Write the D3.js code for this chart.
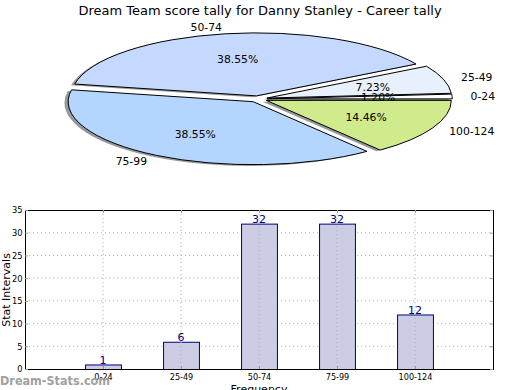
<!DOCTYPE html>
<html><head><meta charset="utf-8">
<script src="https://cdn.jsdelivr.net/npm/d3@7"></script>
<style>
html,body{margin:0;padding:0;background:#fff;}
svg{display:block;font-family:"DejaVu Sans",sans-serif;}
</style></head>
<body>
<svg id="c" width="520" height="390"></svg>
<script>
const titleText = "Dream Team score tally for Danny Stanley - Career tally";
const categories = ["0-24", "25-49", "50-74", "75-99", "100-124"];
const counts = [1, 6, 32, 32, 12];
const pieColors = ["#ffffff", "#e8f0fe", "#c5d9fe", "#b4d5fe", "#d0eb8b"];
const yTicks = [0, 5, 10, 15, 20, 25, 30, 35];
const xLabel = "Frequency";
const yLabel = "Stat Intervals";
const watermark = "Dream-Stats.com";

const svg = d3.select("#c");

// Title
svg.append("text").attr("x", 260).attr("y", 15).attr("text-anchor", "middle")
  .attr("font-size", 13).attr("fill", "#000").text(titleText);

// ---------- Pie ----------
const cx = 258, cy = 99, rx = 185, ry = 63;
const explode = 0.05, labelDist = 1.1, pctDist = 0.6;
const total = d3.sum(counts);
const pie = d3.pie().sort(null).value(d => d)
  .startAngle(Math.PI / 2).endAngle(Math.PI / 2 - 2 * Math.PI);
const arcs = pie(counts);
const arc = d3.arc().innerRadius(0).outerRadius(rx);

const pg = svg.append("g").attr("transform", `translate(${cx},${cy}) scale(1,${ry / rx})`);
const offs = arcs.map(a => {
  const m = (a.startAngle + a.endAngle) / 2;
  return {m, dx: Math.sin(m) * explode * rx, dy: -Math.cos(m) * explode * rx};
});
// shadows
arcs.forEach((a, i) => {
  pg.append("path").attr("d", arc(a))
    .attr("transform", `translate(${offs[i].dx - 0.02 * rx},${offs[i].dy + 0.02 * rx})`)
    .attr("fill", "#2e3238").attr("fill-opacity", 0.5);
});
// wedges
arcs.forEach((a, i) => {
  pg.append("path").attr("d", arc(a))
    .attr("transform", `translate(${offs[i].dx},${offs[i].dy})`)
    .attr("fill", pieColors[i]).attr("stroke", "#000").attr("stroke-width", 1)
    .attr("vector-effect", "non-scaling-stroke").attr("stroke-linejoin", "round");
});
// labels
arcs.forEach((a, i) => {
  const m = offs[i].m;
  const ux = Math.sin(m), uy = -Math.cos(m);
  const lx = cx + (explode + labelDist) * ux * rx;
  const ly = cy + (explode + labelDist) * uy * ry;
  svg.append("text").attr("x", lx).attr("y", ly).attr("dy", "0.36em")
    .attr("text-anchor", ux > 0 ? "start" : "end")
    .attr("font-size", 10.8).text(categories[i]);
  const px = cx + (explode + pctDist) * ux * rx;
  const py = cy + (explode + pctDist) * uy * ry;
  svg.append("text").attr("x", px).attr("y", py).attr("dy", "0.36em")
    .attr("text-anchor", "middle").attr("font-size", 10.8)
    .text((counts[i] / total * 100).toFixed(2) + "%");
});

// ---------- Bar chart ----------
const L = 25, R = 493, T = 210, B = 369;
const x = d3.scalePoint().domain(categories).range([L, R]).padding(1);
const y = d3.scaleLinear().domain([0, 35]).range([B, T]);
const bw = 0.46 * x.step();
const bg = svg.append("g");

// horizontal grid (behind bars)
bg.selectAll("line.hg").data(yTicks.filter(t => t > 0 && t < 35)).enter().append("line")
  .attr("x1", L).attr("x2", R).attr("y1", d => y(d)).attr("y2", d => y(d))
  .attr("stroke", "#b8b8b8").attr("stroke-dasharray", "1.2,2.8").attr("stroke-width", 1);

// bars
bg.selectAll("rect.bar").data(counts).enter().append("rect")
  .attr("x", (d, i) => x(categories[i]) - bw / 2 + 0.5)
  .attr("y", d => y(d) + 0.5)
  .attr("width", bw).attr("height", d => B - y(d))
  .attr("fill", "#ccccE5").attr("stroke", "#000080").attr("stroke-width", 1);

// vertical grid (over bars)
bg.selectAll("line.vg").data(categories).enter().append("line")
  .attr("x1", d => x(d)).attr("x2", d => x(d)).attr("y1", T).attr("y2", B)
  .attr("stroke", "#b0b0b0").attr("stroke-dasharray", "1.2,2.8").attr("stroke-width", 1);

// value labels
bg.selectAll("text.val").data(counts).enter().append("text")
  .attr("x", (d, i) => x(categories[i])).attr("y", d => y(d) - 0.5)
  .attr("text-anchor", "middle").attr("font-size", 11).attr("fill", "#000080")
  .text(d => d);

// frame
bg.append("rect").attr("x", L + 0.5).attr("y", T + 0.5).attr("width", R - L).attr("height", B - T)
  .attr("fill", "none").attr("stroke", "#000").attr("stroke-width", 1);

// axes via d3
const yAxis = d3.axisLeft(y).tickValues(yTicks).tickSize(0).tickPadding(3);
const ya = svg.append("g").attr("transform", `translate(${L + 0.5},0)`).call(yAxis);
ya.select(".domain").remove();
ya.selectAll("text").attr("font-size", 9.2).attr("font-family", "DejaVu Sans").attr("font-stretch", "condensed").attr("fill", "#000");

const xAxis = d3.axisBottom(x).tickSize(0).tickPadding(4);
const xa = svg.append("g").attr("transform", `translate(0,${B + 0.5})`).call(xAxis);
xa.select(".domain").remove();
xa.selectAll("text").attr("font-size", 9).attr("font-family", "DejaVu Sans").attr("font-stretch", "condensed").attr("fill", "#000");

// tick marks inside (left/right/top/bottom)
yTicks.forEach(t => {
  svg.append("line").attr("x1", L).attr("x2", L + 3).attr("y1", y(t) + 0.5).attr("y2", y(t) + 0.5).attr("stroke", "#999");
  svg.append("line").attr("x1", R - 3).attr("x2", R).attr("y1", y(t) + 0.5).attr("y2", y(t) + 0.5).attr("stroke", "#999");
});
categories.forEach(c => {
  svg.append("line").attr("x1", x(c) + 0.5).attr("x2", x(c) + 0.5).attr("y1", B - 3).attr("y2", B).attr("stroke", "#999");
  svg.append("line").attr("x1", x(c) + 0.5).attr("x2", x(c) + 0.5).attr("y1", T).attr("y2", T + 3).attr("stroke", "#999");
});

// axis labels
svg.append("text").attr("transform", `translate(9.5,290) rotate(-90)`).attr("text-anchor", "middle")
  .attr("font-size", 11).text(yLabel);
svg.append("text").attr("x", 259).attr("y", 393).attr("text-anchor", "middle")
  .attr("font-size", 11).text(xLabel);

// watermark
svg.append("text").attr("x", 0).attr("y", 385).attr("font-size", 12.5).attr("font-weight", "bold")
  .attr("font-stretch", "condensed").attr("fill", "#a0a0a0").text(watermark);
</script>
</body></html>
